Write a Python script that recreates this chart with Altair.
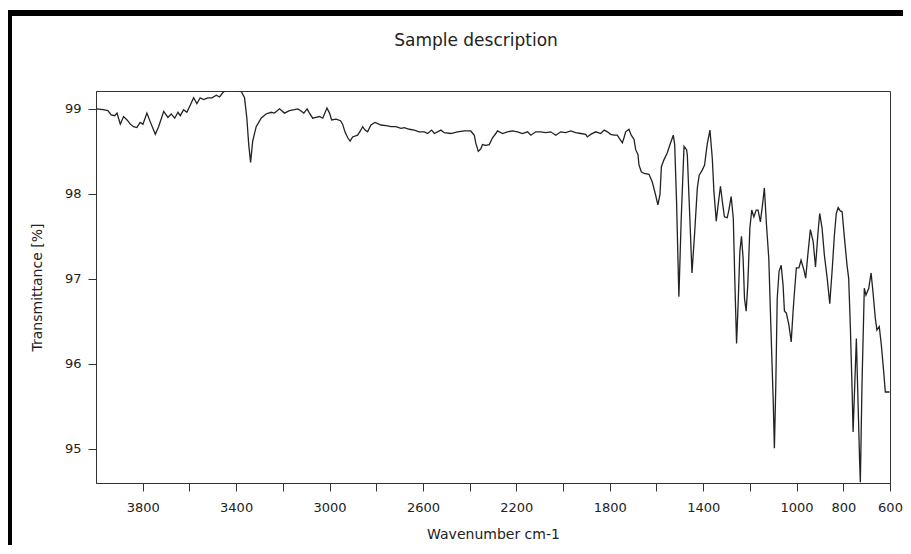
import altair as alt
import pandas as pd

wavenumber = [3998,3970,3949,3935,3920,3910,3896,3882,3867,3853,
 3839,3825,3811,3799,3782,3768,3746,3732,3710,3692,
 3678,3663,3649,3639,3625,3611,3597,3582,3568,3554,
 3539,3521,3503,3485,3471,3454,3443,3410,3379,3364,
 3354,3346,3338,3329,3314,3293,3272,3250,3236,3214,
 3193,3172,3150,3136,3119,3110,3096,3086,3072,3058,
 3043,3029,3011,3000,2991,2972,2953,2944,2934,2922,
 2912,2901,2880,2868,2858,2848,2837,2823,2805,2780,
 2751,2737,2716,2694,2680,2658,2637,2616,2594,2580,
 2563,2551,2523,2509,2480,2452,2423,2395,2380,2374,
 2363,2352,2345,2331,2316,2302,2288,2281,2259,2238,
 2217,2195,2174,2152,2138,2117,2096,2074,2053,2031,
 2010,1989,1967,1946,1924,1903,1896,1882,1860,1839,
 1824,1810,1796,1782,1768,1756,1746,1739,1732,1718,
 1708,1696,1689,1679,1675,1665,1653,1632,1618,1604,
 1594,1585,1579,1568,1554,1542,1528,1522,1514,1504,
 1494,1482,1471,1468,1457,1448,1437,1425,1417,1404,
 1394,1383,1371,1361,1354,1344,1336,1326,1316,1309,
 1297,1290,1280,1271,1264,1257,1250,1243,1236,1229,
 1223,1216,1209,1200,1192,1183,1173,1165,1155,1146,
 1138,1129,1119,1109,1100,1095,1089,1083,1075,1066,
 1058,1052,1044,1033,1023,1015,1009,1001,990,981,
 969,961,952,941,929,919,909,901,891,881,
 869,858,848,838,830,822,813,805,795,784,
 777,770,762,758,751,744,737,730,727,720,
 710,703,691,681,673,663,656,646,637,627,
 620,602]

transmittance = [99.00,98.99,98.98,98.93,98.92,98.95,98.82,98.91,98.87,98.82,
 98.79,98.78,98.84,98.82,98.95,98.85,98.70,98.79,98.97,98.90,
 98.94,98.89,98.96,98.92,98.99,98.96,99.04,99.13,99.06,99.13,
 99.11,99.13,99.13,99.16,99.14,99.20,99.22,99.22,99.21,99.13,
 98.89,98.58,98.37,98.62,98.79,98.89,98.94,98.96,98.95,99.00,
 98.95,98.98,98.99,99.00,98.97,98.95,99.00,98.95,98.89,98.90,
 98.91,98.89,99.01,98.95,98.87,98.88,98.86,98.82,98.73,98.66,
 98.62,98.67,98.69,98.74,98.79,98.75,98.73,98.81,98.84,98.81,
 98.80,98.79,98.79,98.77,98.78,98.76,98.75,98.73,98.73,98.71,
 98.75,98.71,98.75,98.72,98.71,98.73,98.74,98.74,98.69,98.60,
 98.50,98.53,98.58,98.57,98.58,98.66,98.71,98.74,98.71,98.73,
 98.74,98.73,98.71,98.73,98.69,98.73,98.73,98.72,98.73,98.69,
 98.73,98.72,98.74,98.72,98.71,98.70,98.67,98.70,98.73,98.71,
 98.75,98.73,98.70,98.69,98.69,98.64,98.60,98.66,98.73,98.76,
 98.69,98.64,98.52,98.46,98.34,98.26,98.24,98.23,98.14,97.99,
 97.87,97.99,98.32,98.40,98.48,98.58,98.69,98.58,97.91,96.79,
 97.71,98.56,98.52,98.46,97.71,97.07,97.52,98.07,98.22,98.28,
 98.34,98.58,98.75,98.42,98.03,97.68,97.87,98.09,97.87,97.73,
 97.72,97.81,97.97,97.71,96.93,96.24,96.73,97.32,97.50,97.24,
 96.77,96.62,96.93,97.60,97.81,97.73,97.81,97.81,97.67,97.87,
 98.07,97.64,97.24,96.34,95.56,95.01,95.75,96.77,97.09,97.16,
 96.93,96.62,96.60,96.46,96.26,96.62,96.85,97.13,97.13,97.22,
 97.11,97.01,97.28,97.58,97.44,97.14,97.52,97.77,97.60,97.28,
 97.01,96.71,97.09,97.52,97.77,97.84,97.80,97.79,97.48,97.16,
 97.01,96.46,95.67,95.20,95.75,96.30,95.56,94.85,94.61,95.75,
 96.89,96.81,96.89,97.07,96.85,96.54,96.40,96.44,96.22,95.91,
 95.67,95.67]

x_ticks = [3800,3600,3400,3200,3000,2800,2600,2400,2200,2000,1800,1600,1400,1200,1000,800,600]
x_labeled = [3800,3400,3000,2600,2200,1800,1400,1000,800,600]
y_ticks = [95,96,97,98,99]
title_text = "Sample description"

df = pd.DataFrame({"wn": wavenumber, "t": transmittance})

FONT = "DejaVu Sans"
label_expr = "indexof(%s, datum.value) >= 0 ? datum.label : ''" % str(x_labeled)

line = alt.Chart(df).mark_line(color="#222222", strokeWidth=1.3, clip=True).encode(
    x=alt.X("wn:Q",
            scale=alt.Scale(domain=[600, 4000], reverse=True, nice=False, zero=False),
            axis=alt.Axis(values=x_ticks, labelExpr=label_expr, format="d",
                          title="Wavenumber cm-1", labelOverlap=False, labelFlush=False,
                          tickSize=8, labelPadding=10, titlePadding=13,
                          grid=False, domainColor="#333333", tickColor="#333333")),
    y=alt.Y("t:Q",
            scale=alt.Scale(domain=[94.6, 99.21], nice=False, zero=False),
            axis=alt.Axis(values=y_ticks, format="d", title="Transmittance [%]",
                          tickSize=8, labelPadding=7, titlePadding=20,
                          grid=False, domainColor="#333333", tickColor="#333333")),
)

title_mark = alt.Chart(pd.DataFrame({"label": [title_text]})).mark_text(
    font=FONT, fontSize=17, color="#222222", align="center", baseline="alphabetic"
).encode(text="label:N", x=alt.value(380), y=alt.value(-45))

border_top = alt.Chart(df).mark_rule(color="black", strokeWidth=5).encode(
    x=alt.value(-90), x2=alt.value(815), y=alt.value(-78))
border_left = alt.Chart(df).mark_rule(color="black", strokeWidth=5).encode(
    x=alt.value(-87), y=alt.value(-80), y2=alt.value(470))

chart = alt.layer(line, title_mark, border_top, border_left).properties(
    width=794, height=392,
    autosize=alt.AutoSizeParams(type="none"),
    padding={"left": 88, "top": 83, "right": 13, "bottom": 62},
    background="white",
).configure_view(stroke="#333333", strokeWidth=1).configure_axis(
    labelFont=FONT, titleFont=FONT, labelFontSize=13, titleFontSize=14,
    labelColor="#222222", titleColor="#222222", titleFontWeight="normal"
)

chart.save("out.html", embed_options={"renderer": "svg", "actions": False})
